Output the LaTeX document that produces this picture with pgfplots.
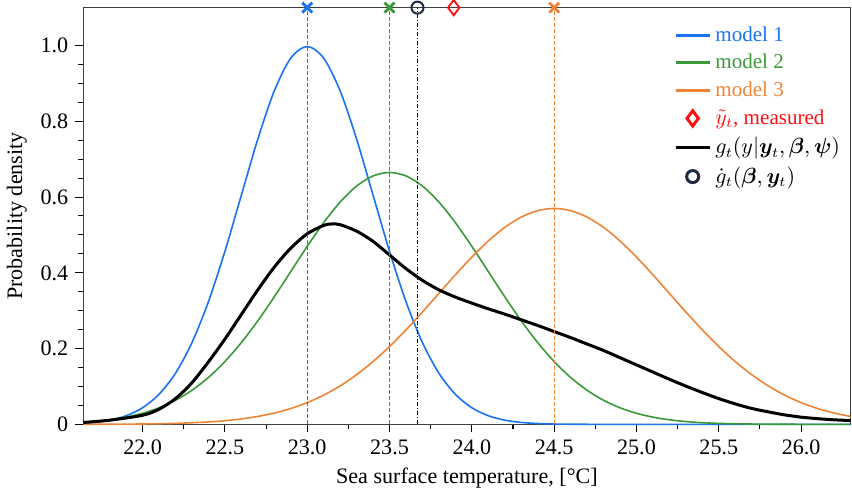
\documentclass[border=0pt]{standalone}
\usepackage{pgfplots}
\pgfplotsset{compat=1.18}
\usepackage{fontspec}
\usepackage{bm}
\setmainfont{Liberation Serif}

\definecolor{cblue}{HTML}{1A73F0}
\definecolor{cgreen}{HTML}{3A9A3A}
\definecolor{corange}{HTML}{EF8436}
\definecolor{cred}{HTML}{FF1010}
\definecolor{cnavy}{HTML}{1F2A44}

\begin{document}
\begin{tikzpicture}
\begin{axis}[
  scale only axis, width=382pt, height=207.5pt,
  xmin=21.64, xmax=26.3, ymin=0, ymax=1.1,
  xtick={22,22.5,...,26}, minor x tick num=1,
  ytick={0,0.2,0.4,0.6,0.8,1.0}, yticklabels={0,0.2,0.4,0.6,0.8,1.0},
  minor y tick num=3,
  tick align=outside, tick pos=left,
  major tick length=4pt, minor tick length=2.5pt,
  every tick/.style={black, line width=0.5pt},
  axis line style={draw=black!75, line width=0.6pt},
  xticklabel style={/pgf/number format/.cd, fixed, fixed zerofill, precision=1, assume math mode=true},
  tick label style={font=\fontsize{11}{13}\selectfont},
  label style={font=\fontsize{11}{13}\selectfont},
  xlabel={Sea surface temperature, [°C]},
  ylabel={Probability density},
  clip=false,
  legend style={at={(1.0,0.975)}, anchor=north east, draw=none, fill=none,
    font=\fontsize{10.5}{12}\selectfont, row sep=1pt,
    legend cell align=left},
  legend image post style={line width=1.5pt},
]
% model 1  N(23, 0.4)
\addplot[cblue, line width=0.8pt, smooth] coordinates {
(21.64,0.0026) (21.7,0.00507) (21.8,0.01108) (21.9,0.02273) (22.0,0.04382) (22.1,0.07936)
(22.2,0.13499) (22.3,0.2157) (22.4,0.3238) (22.5,0.4566) (22.6,0.6050) (22.7,0.7529)
(22.8,0.8802) (22.9,0.9667) (23.0,0.9974) (23.1,0.9667) (23.2,0.8802) (23.3,0.7529)
(23.4,0.6050) (23.5,0.4566) (23.6,0.3238) (23.7,0.2157) (23.8,0.13499) (23.9,0.07936)
(24.0,0.04382) (24.1,0.02273) (24.2,0.01108) (24.3,0.00507) (24.4,0.00218) (24.5,0.00088)
(24.6,0.00034) (24.8,0.00003) (25.2,0) (26.3,0)
};
\addlegendentry{\textcolor{cblue}{model 1}}
% model 2  N(23.5, 0.6)
\addplot[cgreen, line width=0.8pt, smooth] coordinates {
(21.64,0.0048) (21.7,0.00739) (21.8,0.01201) (21.9,0.01899) (22.0,0.02922) (22.1,0.04369)
(22.2,0.06359) (22.3,0.08999) (22.4,0.12382) (22.5,0.16579) (22.6,0.21586) (22.7,0.27335)
(22.8,0.33666) (22.9,0.40328) (23.0,0.46985) (23.1,0.53241) (23.2,0.58677) (23.3,0.62897)
(23.4,0.65573) (23.5,0.6649) (23.6,0.65573) (23.7,0.62897) (23.8,0.58677) (23.9,0.53241)
(24.0,0.46985) (24.1,0.40328) (24.2,0.33666) (24.3,0.27335) (24.4,0.21586) (24.5,0.16579)
(24.6,0.12382) (24.7,0.08999) (24.8,0.06359) (24.9,0.04369) (25.0,0.02922) (25.1,0.01899)
(25.2,0.01201) (25.3,0.00739) (25.4,0.00442) (25.5,0.00257) (25.6,0.00145) (25.7,0.0008)
(25.8,0.00043) (26.0,0.0001) (26.3,0)
};
\addlegendentry{\textcolor{cgreen}{model 2}}
% model 3  N(24.5, 0.7)
\addplot[corange, line width=0.8pt, smooth] coordinates {
(21.64,0.00013) (21.8,0.00034) (22.0,0.00097) (22.2,0.00258) (22.4,0.00633) (22.5,0.00962)
(22.6,0.01432) (22.7,0.0209) (22.8,0.02985) (22.9,0.04181) (23.0,0.05738) (23.1,0.07713)
(23.2,0.1016) (23.3,0.13112) (23.4,0.16579) (23.5,0.20542) (23.6,0.24937) (23.7,0.2966)
(23.8,0.34566) (23.9,0.3947) (24.0,0.44155) (24.1,0.48405) (24.2,0.5199) (24.3,0.5471)
(24.4,0.56412) (24.5,0.5699) (24.6,0.56412) (24.7,0.5471) (24.8,0.5199) (24.9,0.48405)
(25.0,0.44155) (25.1,0.3947) (25.2,0.34566) (25.3,0.2966) (25.4,0.24937) (25.5,0.20542)
(25.6,0.16579) (25.7,0.13112) (25.8,0.1016) (25.9,0.07713) (26.0,0.05738) (26.1,0.04181)
(26.2,0.02985) (26.3,0.0209)
};
\addlegendentry{\textcolor{corange}{model 3}}
% measured
\addplot[only marks, mark=diamond, mark size=3.8pt, cred, line width=0.9pt]
  coordinates {(23.89,1.1)};
\addlegendentry{\textcolor{cred}{$\tilde{y}_t$, measured}}
% mixture density
\addplot[black, line width=1.5pt, smooth] coordinates {
(21.64,0.005) (21.8,0.011) (22.0,0.024) (22.1,0.040) (22.2,0.068) (22.3,0.110)
(22.4,0.165) (22.5,0.225) (22.6,0.290) (22.7,0.355) (22.8,0.415) (22.9,0.465)
(23.0,0.503) (23.1,0.525) (23.15,0.529) (23.2,0.527) (23.3,0.510) (23.4,0.483)
(23.5,0.447) (23.6,0.411) (23.7,0.380) (23.8,0.355) (23.9,0.336) (24.0,0.320)
(24.1,0.305) (24.2,0.291) (24.3,0.276) (24.4,0.261) (24.5,0.245) (24.6,0.229)
(24.7,0.212) (24.8,0.195) (24.9,0.176) (25.0,0.157) (25.1,0.138) (25.2,0.119)
(25.3,0.101) (25.4,0.084) (25.5,0.068) (25.6,0.054) (25.7,0.042) (25.8,0.033)
(25.9,0.025) (26.0,0.019) (26.1,0.015) (26.2,0.012) (26.3,0.010)
};
\addlegendentry{$g_t(y|\bm{y}_t,\bm{\beta},\bm{\psi})$}
\addplot[only marks, mark=o, mark size=3pt, cnavy, line width=1pt]
  coordinates {(23.67,1.1)};
\addlegendentry{$\dot{g}_t(\bm{\beta},\bm{y}_t)$}
% vertical reference lines
\addplot[forget plot, cblue, line width=0.6pt, dash pattern=on 2pt off 1pt] coordinates {(23.0,0) (23.0,1.1)};
\addplot[forget plot, cgreen, line width=0.6pt, dash pattern=on 2pt off 1pt] coordinates {(23.5,0) (23.5,1.1)};
\addplot[forget plot, corange, line width=0.6pt, dash pattern=on 2pt off 1pt] coordinates {(24.5,0) (24.5,1.1)};
\addplot[forget plot, black, line width=0.6pt, dash pattern=on 2pt off 1pt on 0.5pt off 1pt] coordinates {(23.67,0) (23.67,1.1)};
% model means on top
\addplot[forget plot, only marks, mark=x, mark size=3.5pt, cblue, line width=1.4pt] coordinates {(23.0,1.1)};
\addplot[forget plot, only marks, mark=x, mark size=3.5pt, cgreen, line width=1.4pt] coordinates {(23.5,1.1)};
\addplot[forget plot, only marks, mark=x, mark size=3.5pt, corange, line width=1.4pt] coordinates {(24.5,1.1)};
\end{axis}
\end{tikzpicture}
\end{document}
